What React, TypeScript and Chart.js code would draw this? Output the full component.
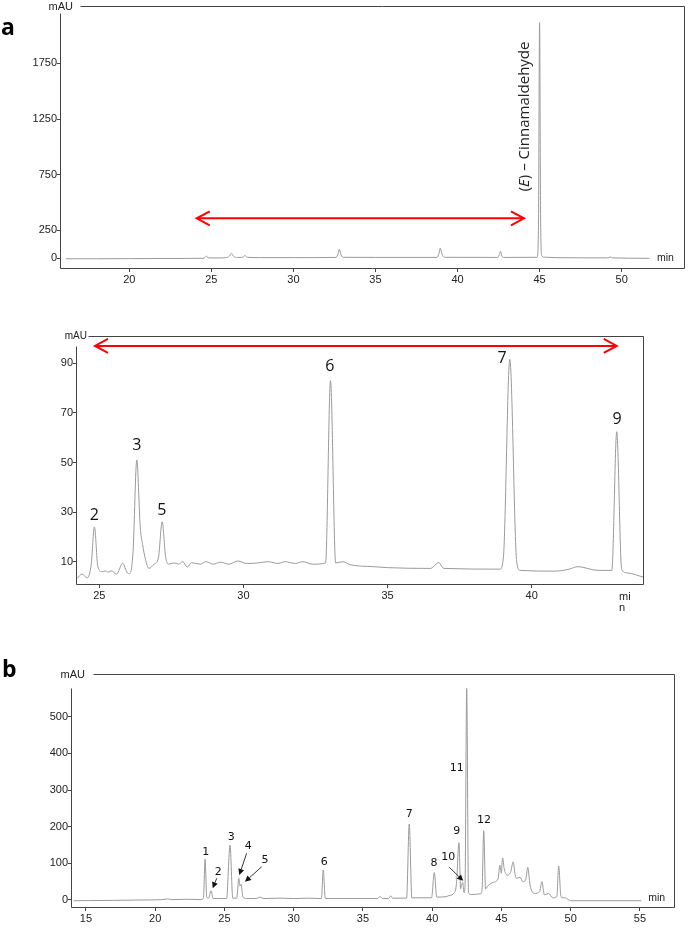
import React, { useEffect, useRef } from 'react';
import { Chart, registerables } from 'chart.js';

Chart.register(...registerables);

const PAGE_W = 697;
const PAGE_H = 938;

// ---------------- DATA ----------------
// Panel a (full run): [time (min), absorbance (mAU)]
const runATrace: [number, number][] = [
  [16.14, -4], [18, -4], [20, -3], [22, -2], [23.5, -1], [24.5, 0], [24.6, 6], [24.7, 20], [24.8, 4],
  [25.4, 3], [25.9, 6], [26.1, 20], [26.22, 45], [26.35, 18], [26.6, 8], [26.9, 9], [27.05, 24], [27.2, 9],
  [28, 6], [30, 6], [32.6, 8], [32.72, 40], [32.8, 82], [32.9, 30], [33.05, 9], [35, 8],
  [38.75, 8], [38.87, 45], [38.95, 90], [39.05, 40], [39.2, 9], [42.45, 8], [42.55, 35], [42.62, 62],
  [42.7, 20], [42.8, 8], [44.85, 9], [44.93, 250], [45.0, 2115], [45.06, 400], [45.13, 25], [45.3, 10],
  [46, 6], [49.15, 4], [49.3, 12], [49.45, 4], [51.7, 0],
];
const runAXTicks = [20, 25, 30, 35, 40, 45, 50];
const runAYTicks = [0, 250, 750, 1250, 1750];

// Panel a (enlarged 24–44 min)
const zoomTrace: [number, number][] = [
  [24.23, 3.3], [24.4, 5], [24.58, 3.5], [24.72, 9], [24.83, 24], [24.95, 8], [25.1, 6], [25.22, 6.3],
  [25.3, 5.8], [25.42, 6.3], [25.6, 5], [25.81, 9.4], [25.97, 5.5], [26.05, 5.2], [26.17, 14], [26.3, 51],
  [26.42, 24], [26.5, 17], [26.6, 11], [26.72, 7.3], [26.9, 9], [27.05, 11.5], [27.18, 26.1], [27.3, 12],
  [27.4, 9], [27.6, 9.5], [27.75, 9], [27.9, 10], [28.05, 7.8], [28.2, 9.6], [28.5, 9], [28.7, 10],
  [28.95, 9], [29.2, 9.8], [29.5, 9], [29.8, 10.3], [30.1, 9.3], [30.5, 9.5], [30.85, 10], [31.2, 9.3],
  [31.45, 10], [31.8, 9.3], [32.05, 10], [32.4, 9], [32.85, 9.5], [33.02, 83], [33.2, 9.5], [33.45, 10],
  [33.7, 8.8], [34.5, 8], [35, 7.6], [36.5, 7.3], [36.77, 9.7], [36.95, 7.3], [38.9, 7], [39.02, 12],
  [39.24, 91.6], [39.48, 10], [39.6, 6.5], [40.8, 6.2], [41.3, 7], [41.6, 8], [42.3, 6.5], [42.78, 6.5],
  [42.95, 62.4], [43.12, 7], [43.3, 5.5], [43.9, 3.7],
];
const zoomXTicks = [25, 30, 35, 40];
const zoomYTicks = [10, 30, 50, 70, 90];
const zoomPeakNames = ['2', '3', '5', '6', '7', '9'];
const zoomPeakLabelTimes = [24.83, 26.3, 27.17, 33.0, 38.97, 42.96];
const zoomPeakLabelValues = [28.8, 56.7, 30.8, 88.9, 92.1, 67.5];

// Panel b
const runBTrace: [number, number][] = [
  [14.1, -2], [17, -1], [19, 0], [20.5, 1], [20.9, 3], [21.2, 1], [22.3, 2], [23.3, 1], [23.48, 6],
  [23.6, 111], [23.72, 8], [23.85, 5], [24.03, 25], [24.18, 4], [25.15, 4], [25.4, 150], [25.6, 5],
  [25.88, 5], [26.04, 59], [26.12, 38], [26.2, 43], [26.33, 8], [26.6, 4], [27.3, 4], [27.56, 8],
  [27.8, 4], [29, 5], [30, 4], [31, 5], [32.0, 4], [32.13, 82], [32.28, 4], [36.05, 4], [36.23, 9],
  [36.45, 4], [36.85, 4], [37.0, 11], [37.15, 5], [38.15, 5], [38.34, 207], [38.53, 6], [39.95, 6],
  [40.15, 75], [40.33, 8], [41.0, 9], [41.2, 12], [41.6, 20], [41.75, 45], [41.93, 156], [42.05, 30],
  [42.12, 42], [42.2, 48], [42.3, 20], [42.37, 40], [42.49, 577], [42.62, 20], [42.8, 15], [43.5, 17],
  [43.6, 30], [43.72, 189], [43.85, 30], [44.0, 38], [44.4, 48], [44.75, 58], [44.89, 95], [44.99, 73],
  [45.08, 115], [45.2, 85], [45.4, 68], [45.65, 75], [45.85, 104], [45.98, 70], [46.1, 59], [46.34, 62],
  [46.55, 50], [46.75, 55], [46.9, 89], [47.06, 41], [47.4, 18], [47.75, 22], [47.92, 50], [48.1, 14],
  [48.4, 18], [48.7, 6], [49.0, 10], [49.13, 93], [49.3, 9], [49.6, 6], [50.0, -2], [55.1, -2],
];
const runBXTicks = [15, 20, 25, 30, 35, 40, 45, 50, 55];
const runBYTicks = [0, 100, 200, 300, 400, 500];
const runBPeakNames = ['1', '2', '3', '4', '5', '6', '7', '8', '9', '10', '11', '12'];
const runBLabelTimes = [23.64, 24.55, 25.48, 26.72, 27.92, 32.21, 38.34, 40.13, 41.77, 41.16, 41.77, 43.74];
const runBLabelValues = [131.7, 77.2, 172.6, 145.9, 107.7, 104.4, 234.5, 100, 189, 116.4, 359, 218];
// pointer arrows: [fromTime, fromValue, toTime, toValue]
const runBPointers: [number, number, number, number][] = [
  [24.44, 59.2, 24.15, 31.9],
  [26.6, 127.4, 26.07, 68.2],
  [27.69, 90.8, 26.48, 49.9],
  [41.23, 89.2, 42.24, 52.6],
];

// ---------------- STYLE ----------------
const FRAME = '#444';
const TICK_TEXT = '#222';
const TRACE = '#9a9a9a';
const RED = '#ff0000';
const SANS = "'Liberation Sans', Arial, sans-serif";
const OPEN = "'Open Sans', 'Noto Sans', sans-serif";

type Area = { left: number; top: number; right: number; bottom: number };
type Fn = (v: number) => number;

interface Panel {
  id: string;
  trace: [number, number][];
  xTicks: number[];
  yTicks: number[];
  xMin: number; xMax: number; yMin: number; yMax: number;
  area: Area;
  topLineGap: number;
  axisGap: number;
  mauRight: number;
  mauSize: number;
  draw: (ctx: CanvasRenderingContext2D, X: Fn, Y: Fn, a: Area) => void;
}

function redDoubleArrow(ctx: CanvasRenderingContext2D, x1: number, x2: number, y: number) {
  ctx.save();
  ctx.strokeStyle = RED;
  ctx.lineWidth = 2;
  ctx.beginPath();
  ctx.moveTo(x1 + 1, y);
  ctx.lineTo(x2 - 1, y);
  ctx.stroke();
  ctx.beginPath();
  ctx.moveTo(x1 + 13, y - 7); ctx.lineTo(x1, y); ctx.lineTo(x1 + 13, y + 7);
  ctx.moveTo(x2 - 13, y - 7); ctx.lineTo(x2, y); ctx.lineTo(x2 - 13, y + 7);
  ctx.stroke();
  ctx.restore();
}

function pointer(ctx: CanvasRenderingContext2D, x1: number, y1: number, x2: number, y2: number) {
  const a = Math.atan2(y2 - y1, x2 - x1);
  const c = Math.cos(a), s = Math.sin(a);
  const hl = 6, hw = 3;
  ctx.save();
  ctx.strokeStyle = '#222';
  ctx.fillStyle = '#111';
  ctx.lineWidth = 0.9;
  ctx.beginPath();
  ctx.moveTo(x1, y1);
  ctx.lineTo(x2 - hl * c, y2 - hl * s);
  ctx.stroke();
  ctx.beginPath();
  ctx.moveTo(x2, y2);
  ctx.lineTo(x2 - hl * c + hw * s, y2 - hl * s - hw * c);
  ctx.lineTo(x2 - hl * c - hw * s, y2 - hl * s + hw * c);
  ctx.closePath();
  ctx.fill();
  ctx.restore();
}

const panels: Panel[] = [
  {
    id: 'a1',
    trace: runATrace,
    xTicks: runAXTicks,
    yTicks: runAYTicks,
    xMin: 15.84, xMax: 53.86, yMin: -87, yMax: 2264,
    area: { left: 61, top: 6, right: 685, bottom: 268 },
    topLineGap: 20,
    axisGap: 7,
    mauRight: 73,
    mauSize: 11,
    draw: (ctx, X, Y, a) => {
      // panel letter
      ctx.fillStyle = '#000';
      ctx.font = `bold 23px ${OPEN}`;
      ctx.textAlign = 'left';
      ctx.textBaseline = 'alphabetic';
      ctx.fillText('a', 1, 35);
      // min
      ctx.fillStyle = TICK_TEXT;
      ctx.font = `10.5px ${SANS}`;
      ctx.textBaseline = 'middle';
      ctx.fillText('min', X(52.15), Y(0));
      // range arrow
      redDoubleArrow(ctx, X(24.11), X(44.05), Y(359));
      // rotated compound label
      ctx.save();
      ctx.translate(X(44.11), Y(1273));
      ctx.rotate(-Math.PI / 2);
      ctx.fillStyle = '#222';
      ctx.textBaseline = 'middle';
      const f1 = `15px ${OPEN}`;
      const f2 = `italic 15px ${OPEN}`;
      ctx.font = f1;
      const w1 = ctx.measureText('(').width;
      const w3 = ctx.measureText(') – Cinnamaldehyde').width;
      ctx.font = f2;
      const w2 = ctx.measureText('E').width;
      let x0 = -(w1 + w2 + w3) / 2;
      ctx.textAlign = 'left';
      ctx.font = f1; ctx.fillText('(', x0, 0); x0 += w1;
      ctx.font = f2; ctx.fillText('E', x0, 0); x0 += w2;
      ctx.font = f1; ctx.fillText(') – Cinnamaldehyde', x0, 0);
      ctx.restore();
    },
  },
  {
    id: 'a2',
    trace: zoomTrace,
    xTicks: zoomXTicks,
    yTicks: zoomYTicks,
    xMin: 24.226, xMax: 43.896, yMin: 1.01, yMax: 101.0,
    area: { left: 77, top: 336, right: 644, bottom: 584 },
    topLineGap: 12,
    axisGap: 10,
    mauRight: 87,
    mauSize: 10,
    draw: (ctx, X, Y, a) => {
      redDoubleArrow(ctx, X(24.85), X(42.95), Y(97));
      ctx.fillStyle = '#111';
      ctx.font = `16px ${OPEN}`;
      ctx.textAlign = 'center';
      ctx.textBaseline = 'middle';
      zoomPeakNames.forEach((n, i) => ctx.fillText(n, X(zoomPeakLabelTimes[i]), Y(zoomPeakLabelValues[i])));
      ctx.fillStyle = TICK_TEXT;
      ctx.font = `11px ${SANS}`;
      ctx.textAlign = 'left';
      ctx.textBaseline = 'alphabetic';
      ctx.fillText('mi', X(43.03), a.bottom + 16);
      ctx.fillText('n', X(43.03), a.bottom + 26.5);
    },
  },
  {
    id: 'b',
    trace: runBTrace,
    xTicks: runBXTicks,
    yTicks: runBYTicks,
    xMin: 13.99, xMax: 57.53, yMin: -19.1, yMax: 616.5,
    area: { left: 72, top: 674, right: 675, bottom: 907 },
    topLineGap: 22,
    axisGap: 14,
    mauRight: 85,
    mauSize: 11,
    draw: (ctx, X, Y, a) => {
      ctx.fillStyle = '#000';
      ctx.font = `bold 23px ${OPEN}`;
      ctx.textAlign = 'left';
      ctx.textBaseline = 'alphabetic';
      ctx.fillText('b', 2, 677);
      ctx.fillStyle = TICK_TEXT;
      ctx.font = `10.5px ${SANS}`;
      ctx.textBaseline = 'middle';
      ctx.fillText('min', X(55.6), Y(4.6));
      ctx.fillStyle = '#111';
      ctx.font = `11px 'DejaVu Sans', sans-serif`;
      ctx.textAlign = 'center';
      runBPeakNames.forEach((n, i) => ctx.fillText(n, X(runBLabelTimes[i]), Y(runBLabelValues[i])));
      runBPointers.forEach(([t1, v1, t2, v2]) => pointer(ctx, X(t1), Y(v1), X(t2), Y(v2)));
    },
  },
];

const Y_AXIS_W = 50;
const X_AXIS_H = 20;

function makeConfig(p: Panel): any {
  const plugin = {
    id: 'decor_' + p.id,
    afterDraw(chart: any) {
      const { ctx, chartArea } = chart;
      const xs = chart.scales.x;
      const ys = chart.scales.y;
      const X = (t: number) => xs.getPixelForValue(t);
      const Y = (v: number) => ys.getPixelForValue(v);
      const { left, top, right, bottom } = chartArea;
      ctx.save();
      ctx.strokeStyle = FRAME;
      ctx.lineWidth = 1;
      ctx.beginPath();
      const l = Math.round(left) - 0.5;
      const r = Math.round(right) - 0.5;
      const t = Math.round(top) + 0.5;
      const b = Math.round(bottom) + 0.5;
      ctx.moveTo(l, t + p.axisGap); ctx.lineTo(l, b);
      ctx.lineTo(r, b); ctx.lineTo(r, t);
      ctx.lineTo(l + p.topLineGap, t);
      ctx.stroke();
      ctx.fillStyle = TICK_TEXT;
      ctx.font = `${p.mauSize}px ${SANS}`;
      ctx.textAlign = 'right';
      ctx.textBaseline = 'middle';
      ctx.fillText('mAU', p.mauRight, t);
      p.draw(ctx, X, Y, { left, top, right, bottom });
      ctx.restore();
    },
  };
  const tickFont = { family: SANS, size: 11, lineHeight: 1 };
  return {
    type: 'line',
    data: {
      datasets: [
        {
          data: p.trace.map(([x, y]) => ({ x, y })),
          borderColor: TRACE,
          borderWidth: 1,
          pointRadius: 0,
          fill: false,
          cubicInterpolationMode: 'monotone',
        },
      ],
    },
    options: {
      responsive: false,
      animation: false,
      devicePixelRatio: 1,
      events: [],
      layout: {
        padding: {
          left: p.area.left - Y_AXIS_W,
          top: p.area.top,
          right: PAGE_W - p.area.right,
          bottom: PAGE_H - p.area.bottom - X_AXIS_H,
        },
      },
      plugins: { legend: { display: false }, tooltip: { enabled: false }, title: { display: false } },
      scales: {
        x: {
          type: 'linear',
          min: p.xMin,
          max: p.xMax,
          afterBuildTicks: (s: any) => { s.ticks = p.xTicks.map((v) => ({ value: v })); },
          afterFit: (s: any) => { s.height = X_AXIS_H; },
          grid: { drawOnChartArea: false, drawTicks: true, tickLength: 4, color: FRAME, lineWidth: 1 },
          border: { display: false },
          ticks: { font: tickFont, color: TICK_TEXT, padding: 2, autoSkip: false, maxRotation: 0, callback: (v: any) => String(v) },
        },
        y: {
          type: 'linear',
          min: p.yMin,
          max: p.yMax,
          afterBuildTicks: (s: any) => { s.ticks = p.yTicks.map((v) => ({ value: v })); },
          afterFit: (s: any) => { s.width = Y_AXIS_W; },
          grid: { drawOnChartArea: false, drawTicks: true, tickLength: 4, color: FRAME, lineWidth: 1 },
          border: { display: false },
          ticks: { font: tickFont, color: TICK_TEXT, padding: 0, autoSkip: false, callback: (v: any) => String(v) },
        },
      },
    },
    plugins: [plugin],
  };
}

function PanelCanvas({ panel }: { panel: Panel }) {
  const ref = useRef<HTMLCanvasElement | null>(null);
  useEffect(() => {
    if (!ref.current) return;
    const chart = new Chart(ref.current, makeConfig(panel));
    return () => chart.destroy();
  }, [panel]);
  return (
    <canvas
      ref={ref}
      width={PAGE_W}
      height={PAGE_H}
      style={{ position: 'absolute', left: 0, top: 0, width: PAGE_W, height: PAGE_H }}
    />
  );
}

export default function App() {
  return (
    <div style={{ position: 'absolute', left: 0, top: 0, width: PAGE_W, height: PAGE_H, background: '#fff', overflow: 'hidden' }}>
      {panels.map((p) => (
        <PanelCanvas key={p.id} panel={p} />
      ))}
    </div>
  );
}
